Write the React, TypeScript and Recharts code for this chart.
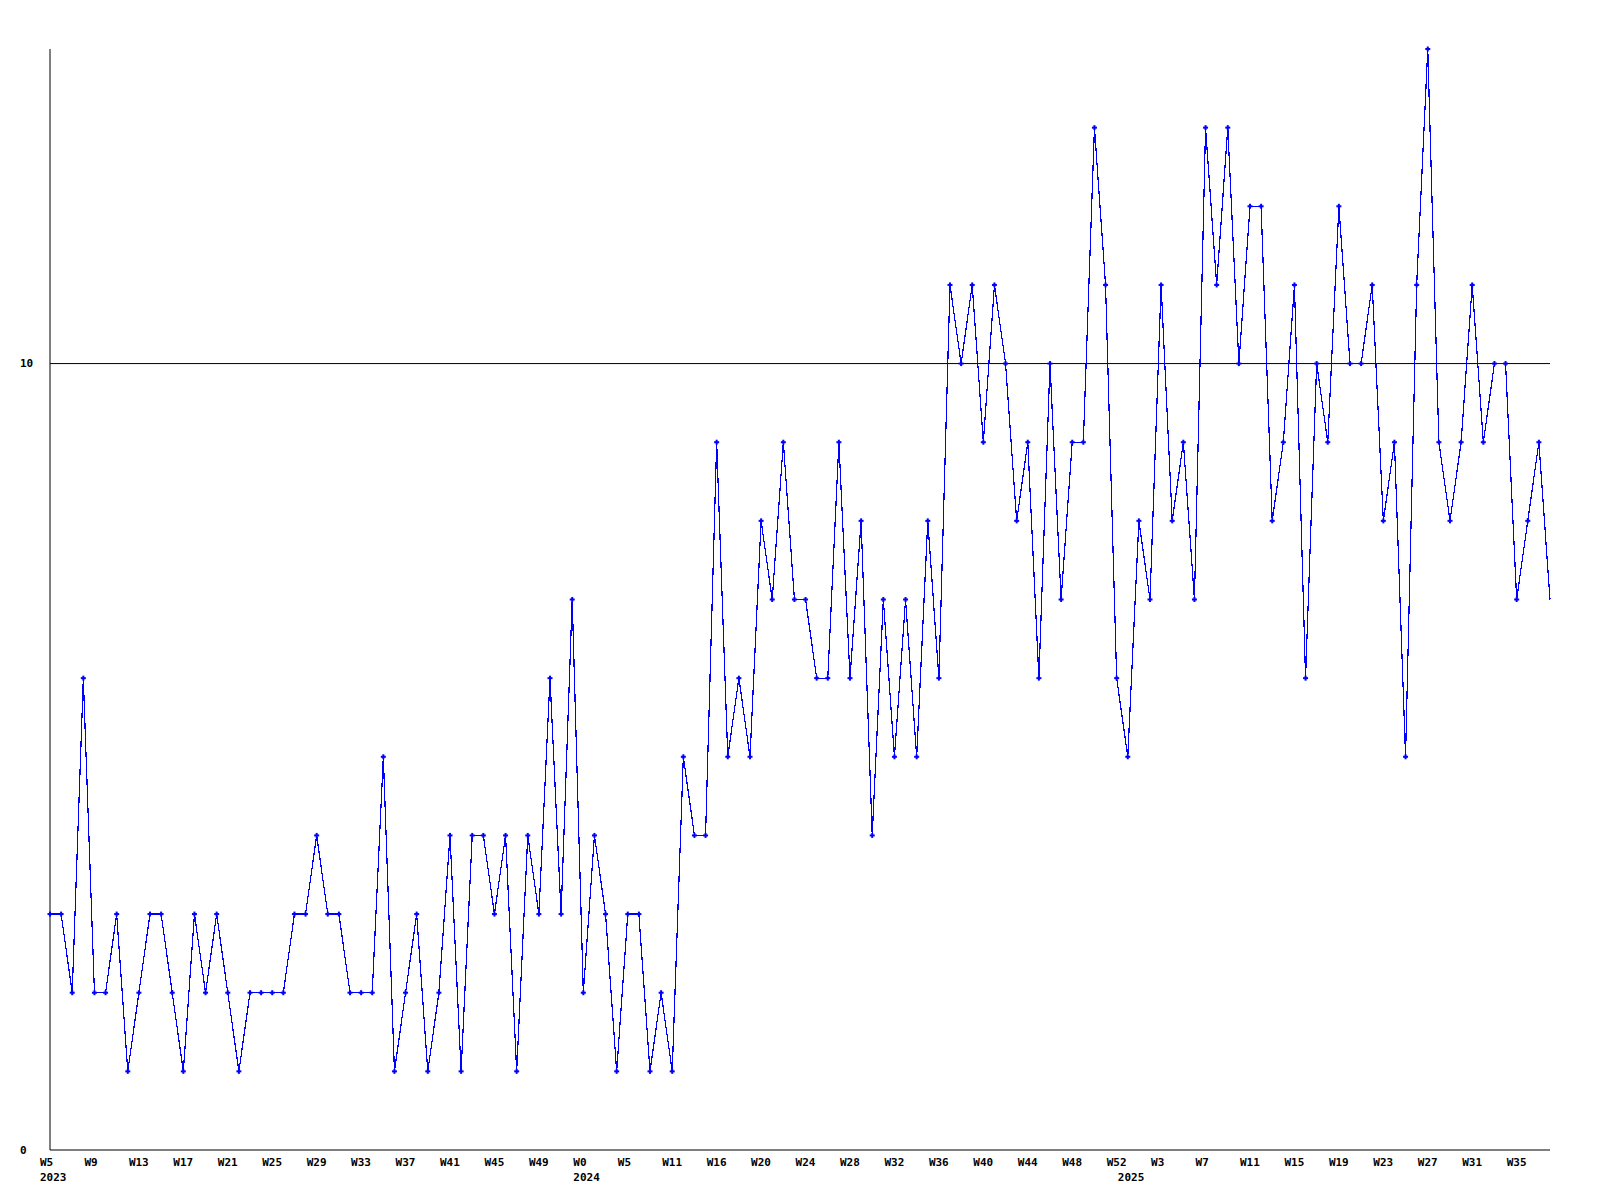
import { LineChart, Line, XAxis, YAxis, ReferenceLine } from "recharts";

// weekly counts, 2023 W5 .. 2025 W38
const values = [
  3, 3, 2, 6, 2, 2, 3, 1, 2, 3,
  3, 2, 1, 3, 2, 3, 2, 1, 2, 2,
  2, 2, 3, 3, 4, 3, 3, 2, 2, 2,
  5, 1, 2, 3, 1, 2, 4, 1, 4, 4,
  3, 4, 1, 4, 3, 6, 3, 7, 2, 4,
  3, 1, 3, 3, 1, 2, 1, 5, 4, 4,
  9, 5, 6, 5, 8, 7, 9, 7, 7, 6,
  6, 9, 6, 8, 4, 7, 5, 7, 5, 8,
  6, 11, 10, 11, 9, 11, 10, 8, 9, 6,
  10, 7, 9, 9, 13, 11, 6, 5, 8, 7,
  11, 8, 9, 7, 13, 11, 13, 10, 12, 12,
  8, 9, 11, 6, 10, 9, 12, 10, 10, 11,
  8, 9, 5, 11, 14, 9, 8, 9, 11, 9,
  10, 10, 7, 8, 9, 7,
];

// one label every 4th point
const weekLabels = [
  "W5", "W9", "W13", "W17", "W21", "W25", "W29", "W33", "W37", "W41", "W45", "W49",
  "W0", "W5", "W11", "W16", "W20", "W24", "W28", "W32", "W36", "W40", "W44", "W48", "W52",
  "W3", "W7", "W11", "W15", "W19", "W23", "W27", "W31", "W35",
];

const years = ["2023", "2024", "2025"];
const yearStarts = [0, 48, 97];

const yTicks = [0, 10];

const data = values.map((v, i) => ({ i, v }));
const xTicks = Array.from(
  new Set([...weekLabels.map((_, k) => k * 4), ...yearStarts])
).sort((a, b) => a - b);

const FONT = "'DejaVu Sans Mono', monospace";

const XTick = (props: any) => {
  const { x, y, payload } = props;
  const idx = payload.value;
  const yi = yearStarts.indexOf(idx);
  return (
    <g>
      {idx % 4 === 0 && (
        <text x={x - 10} y={y} dominantBaseline="central" fontFamily={FONT} fontWeight="bold" fontSize={11} fill="#000">
          {weekLabels[idx / 4]}
        </text>
      )}
      {yi >= 0 && (
        <text x={x - 10} y={y + 15} dominantBaseline="central" fontFamily={FONT} fontWeight="bold" fontSize={11} fill="#000">
          {years[yi]}
        </text>
      )}
    </g>
  );
};

const YTick = (props: any) => {
  const { y, payload } = props;
  return (
    <text x={20} y={y} dominantBaseline="central" fontFamily={FONT} fontWeight="bold" fontSize={11} fill="#000">
      {payload.value}
    </text>
  );
};

// small "+" marker, skipped on the last point
const Marker = (props: any) => {
  const { cx, cy, index } = props;
  if (index === values.length - 1) return <g key={`m-${index}`} />;
  return (
    <g key={`m-${index}`} fill="#0000ff">
      <rect x={cx - 2.5} y={cy - 1} width={5} height={2} />
      <rect x={cx - 1} y={cy - 2.5} width={2} height={5} />
    </g>
  );
};

export default function App() {
  return (
    <div style={{ position: "absolute", left: 0, top: 0, width: 1600, height: 1200, background: "#fff" }}>
      <LineChart width={1600} height={1200} data={data} margin={{ top: 49, right: 50, left: 0, bottom: 0 }}>
        <XAxis
          type="number"
          dataKey="i"
          domain={[0, values.length - 1]}
          ticks={xTicks}
          interval={0}
          tickLine={false}
          tickSize={0}
          tickMargin={12}
          height={50}
          axisLine={{ stroke: "#000", strokeWidth: 1 }}
          tick={<XTick />}
        />
        <YAxis
          type="number"
          domain={[0, 14]}
          ticks={yTicks}
          interval={0}
          width={50}
          tickLine={false}
          axisLine={{ stroke: "#000", strokeWidth: 1 }}
          tick={<YTick />}
        />
        <ReferenceLine y={10} stroke="#000" strokeWidth={1} />
        <Line
          type="linear"
          dataKey="v"
          stroke="#0000ff"
          strokeWidth={1.2}
          shapeRendering="crispEdges"
          dot={<Marker />}
          activeDot={false}
          isAnimationActive={false}
        />
      </LineChart>
    </div>
  );
}
